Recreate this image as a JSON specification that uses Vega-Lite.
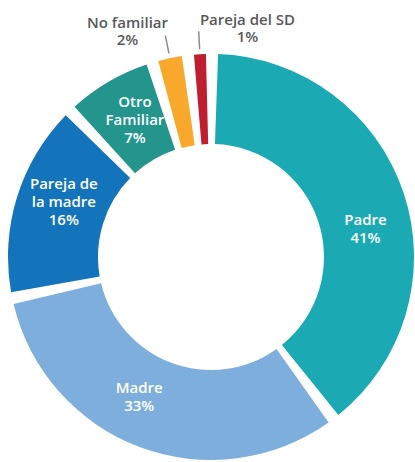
{
  "$schema": "https://vega.github.io/schema/vega-lite/v6.json",
  "width": 410,
  "height": 410,
  "autosize": {"type": "none"},
  "padding": {"left": 6, "top": 52, "right": 0, "bottom": 0},
  "background": "white",
  "config": {"view": {"stroke": null}},
  "data": {
    "values": [
      {"categoria": "Padre", "valor": 41, "orden": 0, "etiqueta": "Padre\n41%"},
      {"categoria": "Madre", "valor": 33, "orden": 1, "etiqueta": "Madre\n33%"},
      {"categoria": "Pareja de la madre", "valor": 16, "orden": 2, "etiqueta": "Pareja de\nla madre\n16%"},
      {"categoria": "Otro Familiar", "valor": 7, "orden": 3, "etiqueta": "Otro\nFamiliar\n7%"},
      {"categoria": "No familiar", "valor": 2, "orden": 4, "etiqueta": "No familiar\n2%"},
      {"categoria": "Pareja del SD", "valor": 1, "orden": 5, "etiqueta": "Pareja del SD\n1%"}
    ]
  },
  "encoding": {
    "theta": {"field": "valor", "type": "quantitative", "stack": true, "scale": {"domain": [0, 100], "range": [0.035, 5.9582]}},
    "order": {"field": "orden", "type": "quantitative"}
  },
  "layer": [
    {
      "mark": {"type": "arc", "innerRadius": 113, "outerRadius": 203,
        "thetaOffset": {"expr": "datum.orden * 0.06"},
        "theta2Offset": {"expr": "datum.orden * 0.06"}},
      "encoding": {
        "color": {"field": "categoria", "type": "nominal", "legend": null,
          "scale": {"domain": ["Padre", "Madre", "Pareja de la madre", "Otro Familiar", "No familiar", "Pareja del SD"],
                    "range": ["#1BAAB4", "#7DAEDC", "#1374BB", "#23958C", "#F8A82A", "#BE1E2D"]}}
      }
    },
    {
      "mark": {"type": "arc", "innerRadius": 208, "outerRadius": 226, "filled": false,
        "stroke": "#8C8C8C", "strokeWidth": 1.5, "padAngle": 0.4,
        "thetaOffset": {"expr": "datum.orden * 0.06"},
        "theta2Offset": {"expr": "datum.orden * 0.06"}},
      "encoding": {
        "strokeOpacity": {"condition": {"test": "datum.orden >= 4", "value": 1}, "value": 0}
      }
    },
    {
      "mark": {"type": "text", "radius": 157, "fill": "white", "font": "Open Sans", "fontSize": 15, "fontWeight": 600,
        "lineBreak": "\n", "lineHeight": 18, "align": "center", "baseline": "middle",
        "dy": {"expr": "(datum.orden == 2 || datum.orden == 3) ? -18 : -9"},
        "thetaOffset": {"expr": "datum.orden * 0.06 + datum.valor * 0.0035"}},
      "encoding": {
        "text": {"condition": {"test": "datum.orden < 4", "field": "etiqueta"}, "value": ""}
      }
    },
    {
      "mark": {"type": "text", "radius": 230, "fill": "#58595B", "font": "Open Sans", "fontSize": 15, "fontWeight": 600,
        "lineBreak": "\n", "lineHeight": 17, "baseline": "middle", "align": "center",
        "dy": {"expr": "datum.orden == 4 ? -9 : -7"},
        "dx": {"expr": "datum.orden == 4 ? -37 : 49"},
        "thetaOffset": {"expr": "datum.orden * 0.06"}},
      "encoding": {
        "text": {"condition": {"test": "datum.orden >= 4", "field": "etiqueta"}, "value": ""}
      }
    }
  ]
}
